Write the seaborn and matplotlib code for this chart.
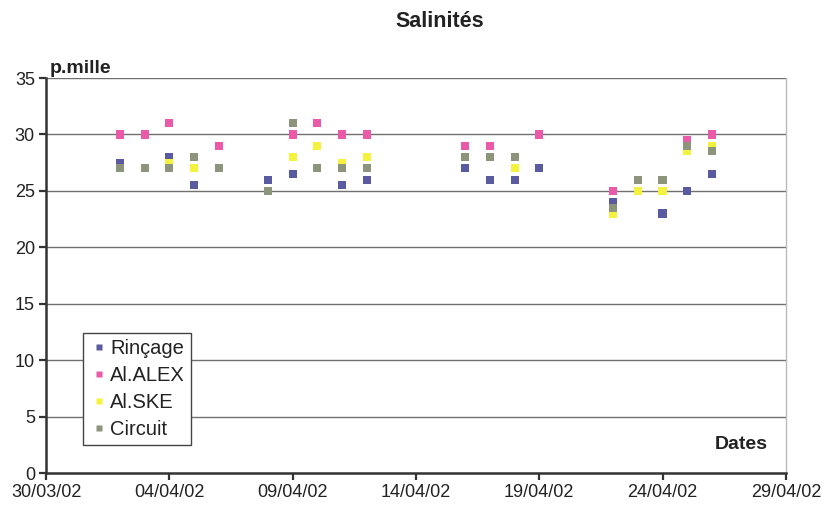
import numpy as np
import pandas as pd
import matplotlib
matplotlib.use("Agg")
import matplotlib.pyplot as plt
import matplotlib.dates as mdates
import seaborn as sns

# Sampling dates (April 2002)
dates = ["2002-04-02", "2002-04-03", "2002-04-04", "2002-04-05", "2002-04-06",
         "2002-04-08", "2002-04-09", "2002-04-10", "2002-04-11", "2002-04-12",
         "2002-04-16", "2002-04-17", "2002-04-18", "2002-04-19",
         "2002-04-22", "2002-04-23", "2002-04-24", "2002-04-25", "2002-04-26"]

nan = np.nan
rincage = [27.5, 27, 28, 25.5, 27, 26, 26.5, 27, 25.5, 26, 27, 26, 26, 27, 24, nan, 23, 25, 26.5]
al_alex = [30, 30, 31, 28, 29, nan, 30, 31, 30, 30, 29, 29, nan, 30, 25, nan, nan, 29.5, 30]
al_ske = [27, 27, 27.5, 27, 27, 25, 28, 29, 27.5, 28, 28, 28, 27, nan, 23, 25, 25, 28.5, 29]
circuit = [27, 27, 27, 28, 27, 25, 31, 27, 27, 27, 28, 28, 28, nan, 23.5, 26, 26, 29, 28.5]

series_names = ["Rinçage", "Al.ALEX", "Al.SKE", "Circuit"]
palette = ["#5a5aa0", "#ea5aa8", "#f4f23c", "#8c957c"]

frames = []
for name, vals in zip(series_names, [rincage, al_alex, al_ske, circuit]):
    frames.append(pd.DataFrame({"Date": pd.to_datetime(dates), "Salinité": vals, "Série": name}))
df = pd.concat(frames, ignore_index=True).dropna()

sns.set_theme(style="white")
plt.rcParams["font.family"] = ["Liberation Sans", "DejaVu Sans"]

fig = plt.figure(figsize=(8.22, 5.09), dpi=100)
ax = fig.add_axes([0.056, 0.0707, 0.900, 0.776])

sns.scatterplot(data=df, x="Date", y="Salinité", hue="Série", hue_order=series_names,
                palette=palette, marker="s", s=34, edgecolor="none", ax=ax, zorder=3)

ax.set_ylim(0, 35)
ax.set_yticks(range(0, 36, 5))
ax.set_xlim(pd.Timestamp("2002-03-30"), pd.Timestamp("2002-04-29"))
ax.set_xticks(pd.date_range("2002-03-30", "2002-04-29", freq="5D"))
ax.xaxis.set_major_formatter(mdates.DateFormatter("%d/%m/%y"))

for yv in range(5, 36, 5):
    ax.axhline(yv, color="#707070", lw=1.0, zorder=1)

ax.set_xlabel("")
ax.set_ylabel("")
for side in ["left", "bottom"]:
    ax.spines[side].set_color("#333333")
    ax.spines[side].set_linewidth(1.8)
ax.spines["top"].set_visible(False)
ax.spines["right"].set_color("#bbbbbb")
ax.spines["right"].set_linewidth(1.0)

ax.tick_params(axis="both", direction="out", length=5, width=1.6, color="#333333",
               labelsize=13, labelcolor="#222222", pad=3, left=True, bottom=True)

fig.text(0.535, 0.957, "Salinités", ha="center", va="center", fontsize=15.5, fontweight="bold",
         color="#222222")
fig.text(0.061, 0.866, "p.mille", ha="left", va="center", fontsize=14, fontweight="bold",
         color="#222222")
ax.text(0.975, 0.072, "Dates", transform=ax.transAxes, ha="right", va="center",
        fontsize=14, fontweight="bold", color="#222222")

leg = ax.legend(loc="lower left", bbox_to_anchor=(0.05, 0.071), borderaxespad=0,
                frameon=True, fancybox=False, fontsize=14.5, handletextpad=0.05,
                borderpad=0.3, labelspacing=0.4, handlelength=1.0, markerscale=0.75)
leg.get_frame().set_edgecolor("#444444")
leg.get_frame().set_linewidth(1.0)
leg.get_frame().set_facecolor("white")
leg.get_frame().set_alpha(1)
for t in leg.get_texts():
    t.set_color("#222222")
leg.set_zorder(5)

fig.savefig("out.png", dpi=100)
